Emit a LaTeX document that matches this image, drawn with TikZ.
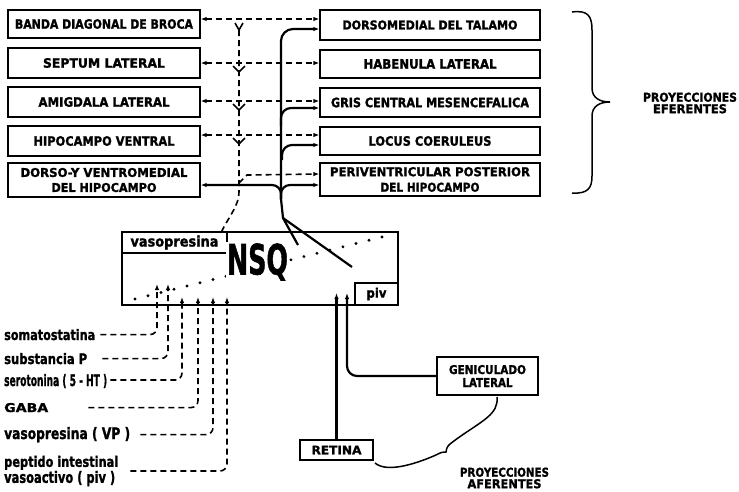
\documentclass[tikz,border=0pt]{standalone}
\usepackage{fontspec}
\setmainfont{DejaVu Sans}[BoldFeatures={FakeBold=1.5}]
\usepackage{graphicx}
\usetikzlibrary{arrows.meta}
\newcommand\fb[3]{\resizebox{#1pt}{#2pt}{\bfseries #3}}
\begin{document}
\begin{tikzpicture}[x=1pt,y=-1pt, >={Latex[length=6pt,width=4.5pt]},
 boxst/.style={draw, line width=1.3pt, inner sep=0pt, align=center},
 dashline/.style={line width=1.6pt, dash pattern=on 6pt off 4pt},
 solidline/.style={line width=2.2pt},
 lbl/.style={inner sep=0pt, anchor=base west},
 txt/.style={inner sep=0pt, align=center},
 vmark/.style={line width=1.6pt}]
\useasboundingbox (0,0) rectangle (739,491);

% left boxes
\node[boxst, minimum width=192pt, minimum height=28pt] (L1) at (104,24) {\fb{178}{9.5}{BANDA DIAGONAL DE BROCA}};
\node[boxst, minimum width=192pt, minimum height=30pt] (L2) at (104,63) {\fb{122}{9.5}{SEPTUM LATERAL}};
\node[boxst, minimum width=192pt, minimum height=30pt] (L3) at (104,102) {\fb{131}{9.5}{AMIGDALA LATERAL}};
\node[boxst, minimum width=192pt, minimum height=30pt] (L4) at (104,141) {\fb{141}{9.5}{HIPOCAMPO VENTRAL}};
\node[boxst, minimum width=192pt, minimum height=34pt, font=\fontsize{10}{15}\selectfont] (L5) at (104,180) {\fb{167}{9}{DORSO-Y VENTROMEDIAL}\\\fb{105}{9}{DEL HIPOCAMPO}};

% right boxes
\node[boxst, minimum width=220pt, minimum height=30pt] (R1) at (430,25) {\fb{175}{9}{DORSOMEDIAL DEL TALAMO}};
\node[boxst, minimum width=220pt, minimum height=28pt] (R2) at (430,64) {\fb{133}{9.5}{HABENULA LATERAL}};
\node[boxst, minimum width=220pt, minimum height=29pt] (R3) at (430,102.5) {\fb{198}{9.5}{GRIS CENTRAL MESENCEFALICA}};
\node[boxst, minimum width=220pt, minimum height=28pt] (R4) at (430,141) {\fb{123}{9.5}{LOCUS COERULEUS}};
\node[boxst, minimum width=220pt, minimum height=33pt, font=\fontsize{10}{15.5}\selectfont] (R5) at (430,179.5) {\fb{200}{9}{PERIVENTRICULAR POSTERIOR}\\\fb{99}{9}{DEL HIPOCAMPO}};

% eferentes brace and label
\draw[line width=1.5pt] (572,12) .. controls (588,10) and (592,16) .. (592,30) -- (592,88)
  .. controls (592,98) and (600,102) .. (610,102) .. controls (600,102) and (592,106) .. (592,116)
  -- (592,176) .. controls (592,188) and (588,194) .. (572,193);
\node[txt, font=\fontsize{10}{11.5}\selectfont] (efer) at (690,103) {\fb{94}{9}{PROYECCIONES}\\\fb{74}{9}{EFERENTES}};

% NSQ
\node[boxst, minimum width=276pt, minimum height=73pt] (NSQ) at (260,268.5) {};
\node[boxst, minimum width=105pt, minimum height=21pt, anchor=north west] (vaso) at (NSQ.north west) {\fb{88}{11}{vasopresina}};
\node[boxst, minimum width=43pt, minimum height=22pt, anchor=south east] (pivb) at (NSQ.south east) {\fb{20}{10}{piv}};
\draw[line width=3.2pt, line cap=round, dash pattern=on 0pt off 13.4pt] (135,299) -- (382,237);
\node[txt, fill=white, inner sep=1pt] (nsqt) at (257.5,262) {\fb{61}{31}{NSQ}};

% row coordinates
\coordinate (r1) at (0,19);
\coordinate (r2) at (0,63);
\coordinate (r3) at (0,101);
\coordinate (r4) at (0,135);
\coordinate (r5) at (0,174);
\coordinate (s1) at (0,29);
\coordinate (s3) at (0,108);
\coordinate (s4) at (0,145);
\coordinate (s5) at (0,185);

% dashed projections
\draw[dashline] (239,30) -- (239,192) .. controls (239,205) and (230,215) .. ([xshift=-6pt]vaso.north east);
\draw[dashline,<->] (L1.east |- r1) -- (R1.west |- r1);
\draw[dashline,<->] (L2.east |- r2) -- (R2.west |- r2);
\draw[dashline,<->] (L3.east |- r3) -- (R3.west |- r3);
\draw[dashline,<->] (L4.east |- r4) -- (R4.west |- r4);
\coordinate (j5) at (239,183);
\draw[dashline,->] (j5) -- (247,175) -- (R5.west |- r5);
\draw[vmark] (235,23) -- (239,30) -- (243,23);
\foreach \yy in {63,101,135} {
  \draw[vmark] (233,\yy+3) -- (239,\yy+9) -- (245,\yy+3);
}

% solid projections
\coordinate (fork) at (281,199);
\coordinate (forkb) at (283,218);
\coordinate (nsqA) at (298,245);
\coordinate (nsqB) at (352,267);
\coordinate (b3) at (281,126);
\coordinate (b4) at (282,160);
\draw[solidline,->,rounded corners=12pt] (fork) |- (R1.west |- s1);
\draw[solidline,->,rounded corners=10pt] (b3) |- (R3.west |- s3);
\draw[solidline,->,rounded corners=10pt] (b4) |- (R4.west |- s4);
\draw[solidline,->,rounded corners=9pt] (fork) |- (R5.west |- s5);
\draw[solidline,->,rounded corners=9pt] (fork) |- (L5.east |- s5);
\draw[solidline] (fork) -- (forkb) -- (nsqA);
\draw[solidline] (forkb) -- (nsqB);

% afferent inputs (lower left)
\node[lbl] (soma) at (4,340) {\fb{91}{11}{somatostatina}};
\node[lbl] (subst) at (4,364) {\fb{83}{11}{substancia P}};
\node[lbl] (sero) at (4,386) {\fb{103}{12}{serotonina ( 5 - HT )}};
\node[lbl] (gaba) at (4,412) {\fb{44}{9}{GABA}};
\node[lbl] (vp) at (4,439) {\fb{126}{12}{vasopresina ( VP )}};
\node[inner sep=0pt, align=left, anchor=west, font=\fontsize{10}{15}\selectfont] (pept) at (4,471) {\fb{114}{11}{peptido intestinal}\\\fb{111}{12}{vasoactivo ( piv )}};

\coordinate (t1) at (157,284);
\coordinate (t2) at (168,284);
\coordinate (t3) at (182,297);
\coordinate (t4) at (198,297);
\coordinate (t5) at (213,297);
\coordinate (t6) at (227,297);
\draw[dashline,->,rounded corners=7pt] ([xshift=5pt]soma.east) -| (t1);
\draw[dashline,->,rounded corners=7pt] ([xshift=15pt]subst.east) -| (t2);
\draw[dashline,->,rounded corners=7pt] ([xshift=3pt,yshift=1pt]sero.east) -| (t3);
\draw[dashline,->,rounded corners=7pt] ([xshift=40pt]gaba.east) -| (t4);
\draw[dashline,->,rounded corners=7pt] ([xshift=10pt]vp.east) -| (t5);
\draw[dashline,->,rounded corners=7pt] ([xshift=12pt]pept.east) -| (t6);

% retina and geniculado
\node[boxst, minimum width=73pt, minimum height=20pt] (ret) at (336.5,450) {\fb{50}{8.5}{RETINA}};
\node[boxst, minimum width=101pt, minimum height=38pt, font=\fontsize{10}{13}\selectfont] (gen) at (487.5,376) {\fb{77}{9}{GENICULADO}\\\fb{50}{9}{LATERAL}};
\coordinate (tr) at (336.5,293);
\coordinate (tg) at (347,293);
\draw[solidline,->] (ret.north) -- (tr);
\draw[solidline,->,rounded corners=10pt] (gen.west) -| (tg);

% aferentes brace and label
\draw[line width=1.5pt] (375,463) .. controls (388,474) and (420,462) .. (436,455)
  .. controls (442,452) .. (446,452) .. controls (447,446) .. (458,438)
  .. controls (482,421) and (499,414) .. (497,397);
\node[txt, font=\fontsize{10}{11.5}\selectfont] (afer) at (504.5,478) {\fb{89}{9}{PROYECCIONES}\\\fb{74}{9}{AFERENTES}};
\end{tikzpicture}
\end{document}
